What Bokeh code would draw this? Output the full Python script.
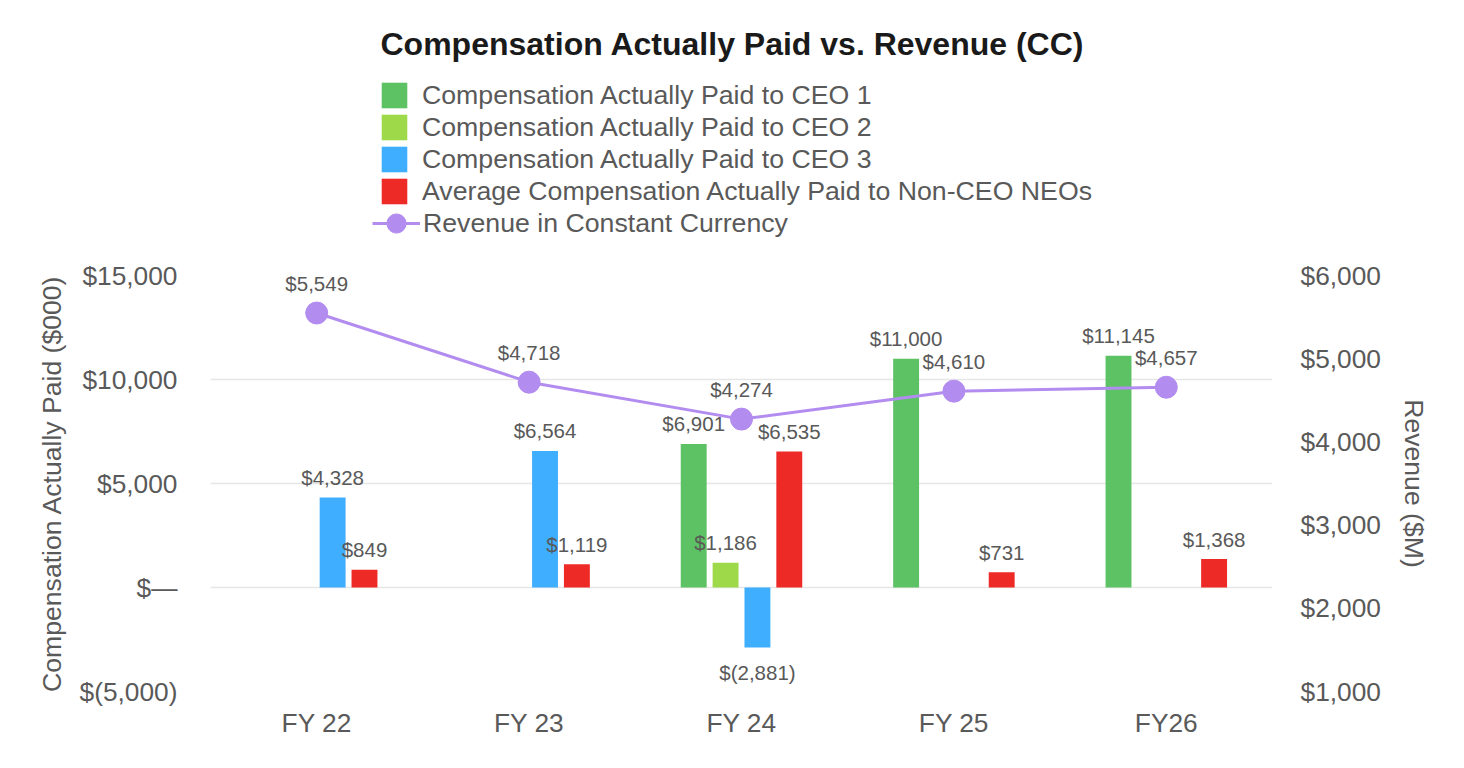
from bokeh.plotting import figure
from bokeh.models import (FactorRange, Range1d, LinearAxis, FixedTicker, ColumnDataSource,
                          Legend, LegendItem, Label)
from bokeh.layouts import column
from bokeh.transform import dodge
from bokeh.embed import file_html
from bokeh.resources import INLINE
from bokeh.core.properties import value

# ---------------- data ----------------
title_text = "Compensation Actually Paid vs. Revenue (CC)"
years = ["FY 22", "FY 23", "FY 24", "FY 25", "FY26"]
ceo1 = [None, None, 6901, 11000, 11145]
ceo2 = [None, None, 1186, None, None]
ceo3 = [4328, 6564, -2881, None, None]
neo = [849, 1119, 6535, 731, 1368]
revenue = [5549, 4718, 4274, 4610, 4657]
series_names = ["Compensation Actually Paid to CEO 1",
                "Compensation Actually Paid to CEO 2",
                "Compensation Actually Paid to CEO 3",
                "Average Compensation Actually Paid to Non-CEO NEOs"]
line_name = "Revenue in Constant Currency"
left_ticks = [-5000, 0, 5000, 10000, 15000]
left_tick_labels = ["$(5,000)", "$\u2014", "$5,000", "$10,000", "$15,000"]
right_ticks = [1000, 2000, 3000, 4000, 5000, 6000]
right_tick_labels = ["$1,000", "$2,000", "$3,000", "$4,000", "$5,000", "$6,000"]
left_axis_label = "Compensation Actually Paid ($000)"
right_axis_label = "Revenue ($M)"

# ---------------- style ----------------
FONT = "Liberation Sans"
GREY = "#595959"
colors = ["#5DC264", "#9ED94A", "#3FAEFF", "#EE2A27"]
offsets = [-0.225, -0.075, 0.075, 0.225]
purple = "#B38CF0"
W = 1448
TOP_H = 250
MAIN_H = 502


def fmt(v):
    if v < 0:
        return "$({:,})".format(-v)
    return "${:,}".format(v)


# ---------------- header figure: title + legend ----------------
h = figure(width=W, height=TOP_H, x_range=Range1d(0, W), y_range=Range1d(0, TOP_H),
           x_axis_type=None, y_axis_type=None, output_backend="svg", title=None,
           toolbar_location=None, min_border=0)
h.outline_line_color = None
h.background_fill_color = "white"

# legend-only swatch renderers (zero-size, outside the visible range)
leg_bars = [h.vbar(x=[-100], top=[0], width=0, fill_color=c, line_color=None) for c in colors]
leg_line = h.line(x=[-100, -100], y=[0, 0], line_color=purple, line_width=3)
leg_dot = h.scatter(x=[-100], y=[0], size=0, fill_color=purple, line_color=purple,
                    marker="circle")

common = dict(spacing=0, padding=0, margin=0, border_line_color=None,
              background_fill_alpha=0, label_text_font=FONT, label_text_font_size="26.7px",
              label_text_color=GREY)
leg1 = Legend(items=[LegendItem(label=n, renderers=[r]) for n, r in zip(series_names, leg_bars)],
              location=(168, 43), glyph_width=32, glyph_height=32, label_standoff=12,
              label_height=32, **common)
leg2 = Legend(items=[LegendItem(label=line_name, renderers=[leg_line, leg_dot])],
              location=(162, 1), glyph_width=48, glyph_height=52, label_standoff=3,
              label_height=52, **common)
h.add_layout(leg1, "center")
h.add_layout(leg2, "center")
h.add_layout(Label(x=170, y=TOP_H - 43, x_units="screen", y_units="screen", text=title_text,
                   text_align="left", text_baseline="middle", text_font=FONT,
                   text_font_size="32px", text_font_style="bold", text_color="#1A1A1A"))

# ---------------- main chart ----------------
p = figure(width=W, height=MAIN_H, x_range=FactorRange(factors=years),
           y_range=Range1d(-5000, 15000), output_backend="svg", title=None,
           toolbar_location=None, min_border_left=210, min_border_right=176,
           min_border_top=25, min_border_bottom=61)
p.extra_y_ranges = {"rev": Range1d(1000, 6000)}
p.outline_line_color = None
p.background_fill_color = "white"
p.xgrid.grid_line_color = None
p.ygrid.grid_line_color = "#E6E6E6"
p.ygrid.grid_line_width = 1.5
p.ygrid.ticker = FixedTicker(ticks=left_ticks)

ya = p.yaxis[0]
ya.ticker = FixedTicker(ticks=left_ticks)
ya.major_label_overrides = {t: l for t, l in zip(left_ticks, left_tick_labels)}
ya.axis_label = left_axis_label

ra = LinearAxis(y_range_name="rev", ticker=FixedTicker(ticks=right_ticks),
                major_label_overrides={t: l for t, l in zip(right_ticks, right_tick_labels)},
                axis_label=right_axis_label)
p.add_layout(ra, "right")

for ax in [ya, ra, p.xaxis[0]]:
    ax.axis_line_color = None
    ax.major_tick_line_color = None
    ax.minor_tick_line_color = None
    ax.major_label_text_font = FONT
    ax.major_label_text_font_size = "26.3px"
    ax.major_label_text_color = GREY
    ax.axis_label_text_font = FONT
    ax.axis_label_text_font_size = "26.6px"
    ax.axis_label_text_font_style = "normal"
    ax.axis_label_text_color = GREY
ya.major_label_standoff = 27
ra.major_label_standoff = 22
ya.axis_label_standoff = 10
ra.axis_label_standoff = 15
p.xaxis[0].major_label_standoff = 10

for vals, color, off in zip([ceo1, ceo2, ceo3, neo], colors, offsets):
    xs = [y for y, v in zip(years, vals) if v is not None]
    tops = [v for v in vals if v is not None]
    src = ColumnDataSource(dict(x=xs, top=tops))
    p.vbar(x=dodge("x", off, range=p.x_range), top="top", bottom=0, width=0.122,
           source=src, fill_color=color, line_color=None)
    pos = [(x, t) for x, t in zip(xs, tops) if t >= 0]
    neg = [(x, t) for x, t in zip(xs, tops) if t < 0]
    for group, yoff in [(pos, -20), (neg, 25)]:
        if not group:
            continue
        lsrc = ColumnDataSource(dict(x=[g[0] for g in group], y=[g[1] for g in group],
                                     label=[fmt(g[1]) for g in group]))
        p.text(x=dodge("x", off, range=p.x_range), y="y", text="label", source=lsrc,
               y_offset=yoff, text_align="center", text_baseline="middle",
               text_font=value(FONT), text_font_size="20.5px", text_color=GREY)

rsrc = ColumnDataSource(dict(x=years, y=revenue, label=[fmt(v) for v in revenue]))
p.line(x="x", y="y", source=rsrc, y_range_name="rev", line_color=purple, line_width=3)
p.scatter(x="x", y="y", source=rsrc, y_range_name="rev", size=22,
          fill_color=purple, line_color=purple, marker="circle")
p.text(x="x", y="y", text="label", source=rsrc, y_range_name="rev", y_offset=-30,
       text_align="center", text_baseline="middle", text_font=value(FONT),
       text_font_size="20.5px", text_color=GREY)

layout = column(h, p, spacing=0)
open("out.html", "w").write(file_html(layout, INLINE))
